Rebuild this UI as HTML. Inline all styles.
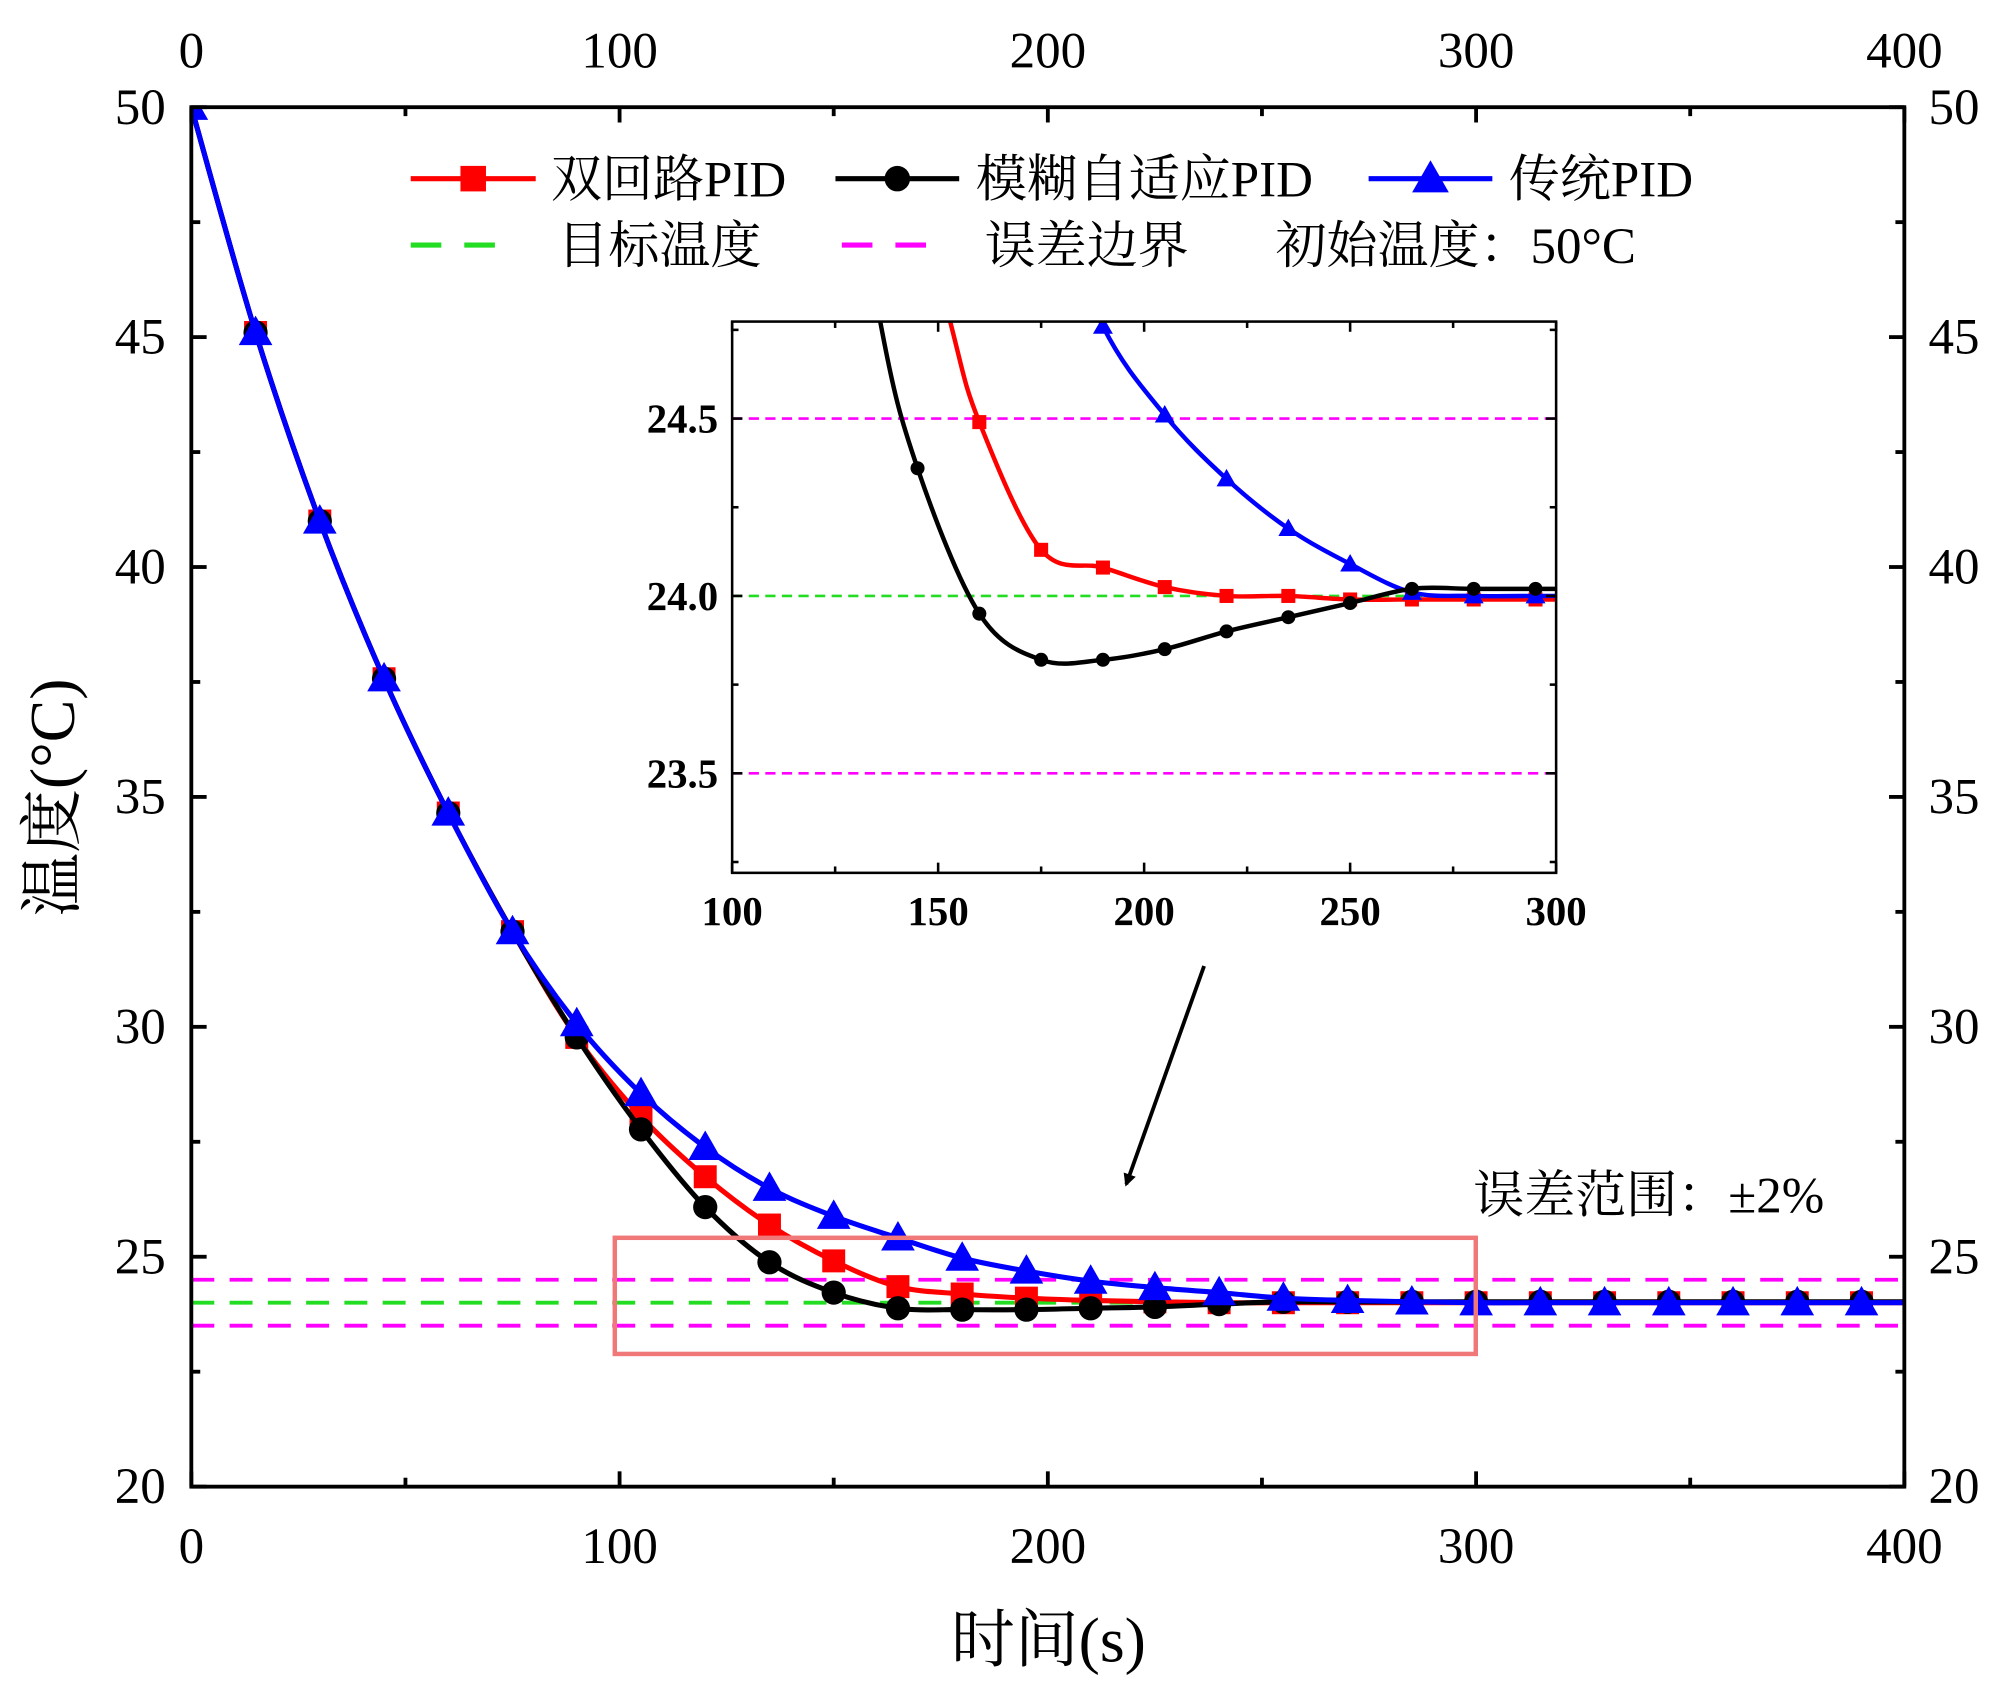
<!DOCTYPE html>
<html><head><meta charset="utf-8"><style>
html,body{margin:0;padding:0;background:#fff;}
svg{display:block;}
text{font-family:"Liberation Serif","Noto Serif CJK SC",serif;fill:#000;}
</style></head><body>
<svg id="chart" width="2000" height="1687" viewBox="0 0 1568 1322" preserveAspectRatio="none" xmlns="http://www.w3.org/2000/svg">
<defs>
<clipPath id="mainClip"><rect x="150" y="84" width="1343" height="1081"/></clipPath>
<clipPath id="insetClip"><rect x="574" y="252" width="646" height="432"/></clipPath>
<marker id="arrowHead" markerWidth="10" markerHeight="10" refX="8" refY="5" orient="auto" markerUnits="userSpaceOnUse"><path d="M0,0 L10,5 L0,10 z" fill="#000"/></marker>
</defs>
<rect x="0" y="0" width="1568" height="1322" fill="#fff"/>
<g id="main"></g>
<g id="inset"></g>
<g id="legend"></g>
</svg>
<script>
// ---- main chart data ----
const mainTimes = [0,15,30,45,60,75,90,105,120,135,150,165,180,195,210,225,240,255,270,285,300,315,330,345,360,375,390,400];
const redValues = [50,45.1,41.0,37.57,34.65,32.07,29.77,28.05,26.74,25.69,24.91,24.35,24.19,24.1,24.05,24.02,24.0,24.0,24.0,24.0,24.0,24.0,24.0,24.0,24.0,24.0,24.0,24.0];
const blackValues = [50,45.1,41.0,37.57,34.65,32.07,29.77,27.77,26.08,24.88,24.22,23.88,23.85,23.85,23.88,23.91,23.97,24.02,24.02,24.02,24.02,24.02,24.02,24.02,24.02,24.02,24.02,24.02];
const blueValues = [50,45.1,41.0,37.57,34.65,32.07,30.07,28.55,27.38,26.49,25.88,25.41,24.97,24.69,24.47,24.33,24.22,24.1,24.05,24.02,24.0,24.0,24.0,24.0,24.0,24.0,24.0,24.0];
const targetTemp = 24.0;
const errorBounds = [24.5, 23.5];
const xTicks = [0,100,200,300,400];
const yTicks = [20,25,30,35,40,45,50];
// ---- inset data ----
const insetRedTimes = [140,153,160,175,190,205,220,235,250,265,280,295,300];
const insetRedValues = [25.4,24.77,24.49,24.13,24.08,24.025,24.0,24.0,23.99,23.99,23.99,23.99,23.99];
const insetBlackTimes = [125,136,145,160,175,190,205,220,235,250,265,280,295,300];
const insetBlackValues = [25.6,24.77,24.36,23.95,23.82,23.82,23.85,23.9,23.94,23.98,24.02,24.02,24.02,24.02];
const insetBlueTimes = [175,190,205,220,235,250,265,280,295,300];
const insetBlueValues = [25.2,24.76,24.51,24.33,24.19,24.09,24.01,24.0,24.0,24.0];
const insetXTicks = [100,150,200,250,300];
const insetYTicks = [23.5,24.0,24.5];

const NS = "http://www.w3.org/2000/svg";
function mk(tag, attrs, parent){const e=document.createElementNS(NS,tag);for(const k in attrs)e.setAttribute(k,attrs[k]);parent.appendChild(e);return e;}
function smoothPath(pts){
  let d=`M${pts[0][0]},${pts[0][1]}`;
  for(let i=0;i<pts.length-1;i++){
    const p0=pts[i-1]||pts[i],p1=pts[i],p2=pts[i+1],p3=pts[i+2]||p2;
    const c1=[p1[0]+(p2[0]-p0[0])/6,p1[1]+(p2[1]-p0[1])/6];
    const c2=[p2[0]-(p3[0]-p1[0])/6,p2[1]-(p3[1]-p1[1])/6];
    d+=` C${c1[0]},${c1[1]} ${c2[0]},${c2[1]} ${p2[0]},${p2[1]}`;
  }
  return d;
}
function marker(g,shape,x,y,s,color){
  let e;
  if(shape==='square') e=mk('rect',{x:x-s/2,y:y-s/2,width:s,height:s,fill:color},g);
  else if(shape==='circle') e=mk('circle',{cx:x,cy:y,r:s/2,fill:color},g);
  else e=mk('path',{d:`M${x},${y-s*0.6} L${x+s*0.6},${y+s*0.45} L${x-s*0.6},${y+s*0.45} Z`,fill:color},g);
  return e;
}

// ---- main axes ----
const X0=150,X1=1493,Y0=84,Y1=1165;
const xs=t=>X0+(t-0)/400*(X1-X0);
const ys=v=>Y1-(v-20)/30*(Y1-Y0);
const main=document.getElementById('main');

let gl=mk('line',{x1:X0,x2:X1,y1:ys(targetTemp),y2:ys(targetTemp),stroke:'#22dd22','stroke-width':3,'stroke-dasharray':'18,12'},main);


errorBounds.forEach((b,i)=>{
  const l=mk('line',{x1:X0,x2:X1,y1:ys(b),y2:ys(b),stroke:'#ff00ff','stroke-width':3,'stroke-dasharray':'18,12'},main);
  
  
});

const series=[
  {name:'traditional-pid',vals:blueValues,color:'#0000ff',shape:'triangle',size:22},
  {name:'fuzzy-adaptive-pid',vals:blackValues,color:'#000',shape:'circle',size:19},
  {name:'dual-loop-pid',vals:redValues,color:'#ff0000',shape:'square',size:18}
];
const order=[2,1,0];
order.forEach(i=>{
  const s=series[i];
  const g=mk('g',{'clip-path':'url(#mainClip)'},main);
  
  
  const pts=mainTimes.map((t,j)=>[xs(t),ys(s.vals[j])]);
  const p=mk('path',{d:smoothPath(pts),fill:'none',stroke:s.color,'stroke-width':4},g);
  
  
  mainTimes.forEach((t,j)=>{
    if(t===400) return;
    if(t===0 && s.shape!=='triangle') return;
    const m=marker(g,s.shape,xs(t),ys(s.vals[j]),s.size,s.color);
    
    
  });
});

let fr=mk('rect',{x:X0,y:Y0,width:X1-X0,height:Y1-Y0,fill:'none',stroke:'#000','stroke-width':3},main);


for(let t=0;t<=400;t+=50){
  const maj=t%100===0,L=maj?12:7,x=xs(t);
  mk('line',{x1:x,x2:x,y1:Y1,y2:Y1-L,stroke:'#000','stroke-width':3},main);
  mk('line',{x1:x,x2:x,y1:Y0,y2:Y0+L,stroke:'#000','stroke-width':3},main);
}
for(let v=20;v<=50;v+=2.5){
  const maj=v%5===0,L=maj?12:7,y=ys(v);
  mk('line',{x1:X0,x2:X0+L,y1:y,y2:y,stroke:'#000','stroke-width':3},main);
  mk('line',{x1:X1,x2:X1-L,y1:y,y2:y,stroke:'#000','stroke-width':3},main);
}
xTicks.forEach(t=>{
  let a=mk('text',{x:xs(t),y:1225,'font-size':40,'text-anchor':'middle'},main);a.textContent=t;
  
  let b=mk('text',{x:xs(t),y:53,'font-size':40,'text-anchor':'middle'},main);b.textContent=t;
  
});
yTicks.forEach(v=>{
  let a=mk('text',{x:130,y:ys(v)+13,'font-size':40,'text-anchor':'end'},main);a.textContent=v;
  
  let b=mk('text',{x:1512,y:ys(v)+13,'font-size':40,'text-anchor':'start'},main);b.textContent=v;
  
});
let xt=mk('text',{x:822,y:1302,'font-size':50,'text-anchor':'middle'},main);xt.textContent='时间(s)';

let yt=mk('text',{x:0,y:0,'font-size':50,'text-anchor':'middle',transform:'translate(58,625) rotate(-90)'},main);yt.textContent='温度(°C)';


let zr=mk('rect',{x:482,y:970,width:675,height:91,fill:'none',stroke:'#f07878','stroke-width':3.5},main);

let ann=mk('text',{x:1155,y:950,'font-size':40},main);ann.textContent='误差范围：±2%';

let ar=mk('line',{x1:944,y1:757,x2:883,y2:928,stroke:'#000','stroke-width':3,'marker-end':'url(#arrowHead)'},main);


// ---- inset ----
const IX0=574,IX1=1220,IY0=252,IY1=684;
const ixs=t=>IX0+(t-100)/200*(IX1-IX0);
const iys=v=>467-(v-24)/0.5*139;
const inset=document.getElementById('inset');


mk('rect',{x:IX0,y:IY0,width:IX1-IX0,height:IY1-IY0,fill:'#fff'},inset);
const ic=mk('g',{'clip-path':'url(#insetClip)'},inset);
let ig=mk('line',{x1:IX0,x2:IX1,y1:iys(targetTemp),y2:iys(targetTemp),stroke:'#22dd22','stroke-width':2,'stroke-dasharray':'8,5'},ic);

errorBounds.forEach(b=>{
  const l=mk('line',{x1:IX0,x2:IX1,y1:iys(b),y2:iys(b),stroke:'#ff00ff','stroke-width':2,'stroke-dasharray':'8,5'},ic);
  
});
const iser=[
  {name:'inset-dual-loop-pid',t:insetRedTimes,v:insetRedValues,color:'#ff0000',shape:'square',size:11},
  {name:'inset-traditional-pid',t:insetBlueTimes,v:insetBlueValues,color:'#0000ff',shape:'triangle',size:13},
  {name:'inset-fuzzy-adaptive-pid',t:insetBlackTimes,v:insetBlackValues,color:'#000',shape:'circle',size:11}
];
iser.forEach(s=>{
  const g=mk('g',{},ic);
  
  const pts=s.t.map((t,j)=>[ixs(t),iys(s.v[j])]);
  const p=mk('path',{d:smoothPath(pts),fill:'none',stroke:s.color,'stroke-width':3.5},g);
  
  s.t.forEach((t,j)=>{
    if(t<145||t>=300||s.v[j]>24.78) return;
    if((t-145)%15!==0) return;
    const m=marker(g,s.shape,ixs(t),iys(s.v[j]),s.size,s.color);
    
  });
});
let ifr=mk('rect',{x:IX0,y:IY0,width:IX1-IX0,height:IY1-IY0,fill:'none',stroke:'#000','stroke-width':2},inset);

for(let t=100;t<=300;t+=25){
  const L=t%50===0?8:5,x=ixs(t);
  mk('line',{x1:x,x2:x,y1:IY1,y2:IY1-L,stroke:'#000','stroke-width':2},inset);
  mk('line',{x1:x,x2:x,y1:IY0,y2:IY0+L,stroke:'#000','stroke-width':2},inset);
}
for(let v=23.25;v<=24.75;v+=0.25){
  const L=Math.abs(v*2-Math.round(v*2))<1e-6?8:5,y=iys(v);
  mk('line',{x1:IX0,x2:IX0+L,y1:y,y2:y,stroke:'#000','stroke-width':2},inset);
  mk('line',{x1:IX1,x2:IX1-L,y1:y,y2:y,stroke:'#000','stroke-width':2},inset);
}
insetXTicks.forEach(t=>{
  const a=mk('text',{x:ixs(t),y:725,'font-size':32,'text-anchor':'middle','font-weight':'bold'},inset);a.textContent=t;
  
});
insetYTicks.forEach(v=>{
  const a=mk('text',{x:563,y:iys(v)+11,'font-size':32,'text-anchor':'end','font-weight':'bold'},inset);a.textContent=v.toFixed(1);
  
});

// ---- legend ----
const lg=document.getElementById('legend');

function entry(name,x1,x2,y,color,shape,dash,label,tx){
  const g=mk('g',{},lg);
  
  const a={x1:x1,x2:x2,y1:y,y2:y,stroke:color,'stroke-width':4};
  if(dash) a['stroke-dasharray']='24,18';
  mk('line',a,g);
  if(shape) marker(g,shape,(x1+x2)/2,y,shape==='triangle'?24:20,color);
  const t=mk('text',{x:tx,y:y+14,'font-size':40},g);t.textContent=label;
}
entry('legend-entry-dual-loop-pid',322,420,140,'#ff0000','square',false,'双回路PID',432);
entry('legend-entry-fuzzy-adaptive-pid',655,752,140,'#000','circle',false,'模糊自适应PID',765);
entry('legend-entry-traditional-pid',1073,1170,140,'#0000ff','triangle',false,'传统PID',1183);
entry('legend-entry-target-temperature',322,402,192,'#22dd22',null,true,'目标温度',437);
entry('legend-entry-error-bound',660,742,192,'#ff00ff',null,true,'误差边界',772);
let it=mk('text',{x:1000,y:206,'font-size':40},lg);it.textContent='初始温度：50°C';

</script>
</body></html>
